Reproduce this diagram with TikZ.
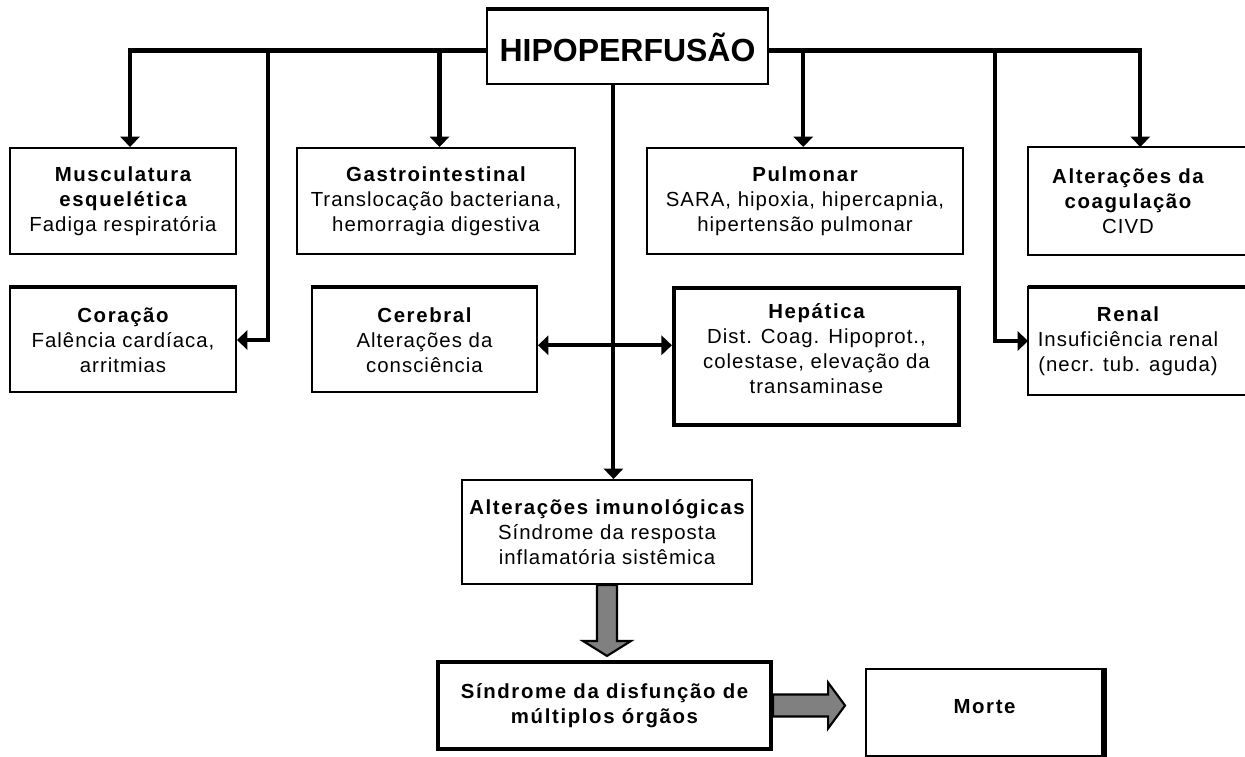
\documentclass[tikz,border=0pt]{standalone}
\usepackage{fontspec}
\setmainfont{Liberation Sans}
\newfontfamily\bodyfont{Liberation Sans}[LetterSpace=5]
\newfontfamily\headfont{Liberation Sans}[LetterSpace=8]
\usepackage{tikz}
\usetikzlibrary{positioning,
				arrows.meta,
				calc}
\newcommand\hd[1]{{\headfont\bfseries #1}}
\tikzset{
	>={Triangle[width=11pt,length=6pt]},
	box/.style={draw, line width=1.1pt, align=center, inner sep=0pt,
		minimum height=2.12cm, font=\bodyfont\fontsize{11.6}{14.3}\selectfont},
	thickbox/.style={box, line width=2.4pt},
	conn/.style={line width=2.3pt, ->},
	fatarrow/.style={draw, line width=1.2pt, fill=black!50, line join=miter},
}

\begin{document}
\begin{tikzpicture}[x=0.02cm, y=-0.02cm]
	\clip (0,0) rectangle (1245,757);
	% top
	\node[box, minimum width=5.62cm, minimum height=1.48cm, font=\fontsize{18.2}{20}\selectfont\bfseries] (hipo) at (627.5,47) {HIPOPERFUSÃO};
	\draw[line width=2.4pt] (hipo.north west) -- (hipo.north east);
	% first row
	\node[box, minimum width=4.52cm] (musc) at (123,201) {\hd{Musculatura}\\\hd{esquelética}\\Fadiga respiratória};
	\node[box, minimum width=5.56cm] (gastro) at (436,201) {\hd{Gastrointestinal}\\Translocação bacteriana,\\hemorragia digestiva};
	\node[box, minimum width=6.32cm] (pulm) at (805,201) {\hd{Pulmonar}\\SARA, hipoxia, hipercapnia,\\hipertensão pulmonar};
	\node[box, draw=none, minimum width=3.96cm] (coag) at (1128,201) {\hd{Alterações da}\\\hd{coagulação}\\CIVD};
	\draw[line width=1.1pt] (coag.north west) rectangle ($(coag.south east)+(60,0)$);
	% second row
	\node[box, minimum width=4.52cm, minimum height=2.08cm] (cora) at (123,340) {\hd{Coração}\\Falência cardíaca,\\arritmias};
	\node[box, minimum width=4.5cm, minimum height=2.08cm] (cereb) at (424.5,340) {\hd{Cerebral}\\Alterações da\\consciência};
	\node[thickbox, minimum width=5.7cm, minimum height=2.74cm] (hepat) at (816.5,356.5) {\hd{Hepática}\\Dist. Coag. Hipoprot.,\\colestase, elevação da\\transaminase\\[-5.3pt]};
	\node[box, draw=none, minimum width=3.96cm] (renal) at (1128,341) {\hd{Renal}\\Insuficiência renal\\(necr. tub. aguda)};
	\draw[line width=1.1pt] (renal.north west) rectangle ($(renal.south east)+(60,0)$);
	\draw[line width=2.4pt] (cora.north west) -- (cora.north east);
	\draw[line width=2.4pt] (cereb.north west) -- (cereb.north east);
	\draw[line width=2.4pt] (renal.north west) -- ($(renal.north east)+(60,0)$);
	% lower part
	\node[box, minimum width=5.8cm, minimum height=2.08cm] (immuno) at (607,532) {\hd{Alterações imunológicas}\\Síndrome da resposta\\inflamatória sistêmica};
	\node[thickbox, minimum width=6.66cm, minimum height=1.74cm] (sind) at (604.5,705.5) {\hd{Síndrome da disfunção de}\\\hd{múltiplos órgãos}};
	\node[box, minimum width=4.74cm, minimum height=1.74cm] (morte) at (984.5,712.5) {\hd{Morte}\\[-7.5pt]};
	\draw[line width=3pt] (morte.north east) -- (morte.south east);
	% connectors
	\draw[conn] ([yshift=-2pt]hipo.west) -| ([xshift=4pt]musc.north);
	\draw[conn] ([yshift=-2pt]hipo.west) -| ([xshift=2pt]gastro.north);
	\draw[conn] ([yshift=-2pt]hipo.west) -| ($(cora.east)+(31,0)$) -- (cora.east);
	\draw[conn] ([yshift=-2pt]hipo.east) -| ([xshift=-1pt]pulm.north);
	\draw[conn] ([yshift=-2pt]hipo.east) -| ([xshift=7pt]coag.north);
	\draw[conn] ([yshift=-2pt]hipo.east) -| ($(renal.west)+(-33,0)$) -- (renal.west);
	\draw[conn] ([xshift=-8pt]hipo.south) -- ([xshift=-8pt]hipo.south |- immuno.north);
	\draw[conn, <->] ([yshift=-3pt]cereb.east) -- ([yshift=-3pt]cereb.east -| hepat.west);
	% grey arrows
	\draw[fatarrow] (immuno.south) ++(-10,0) -- ++(0,56) -- ++(-14,0) -- ++(24,15) -- ++(24,-15) -- ++(-14,0) -- ++(0,-56) -- cycle;
	\draw[fatarrow] (sind.east) ++(0,-11) -- ++(55,0) -- ++(0,-12) -- ++(17,23) -- ++(-17,23) -- ++(0,-12) -- ++(-55,0) -- cycle;
\end{tikzpicture}
\end{document}
